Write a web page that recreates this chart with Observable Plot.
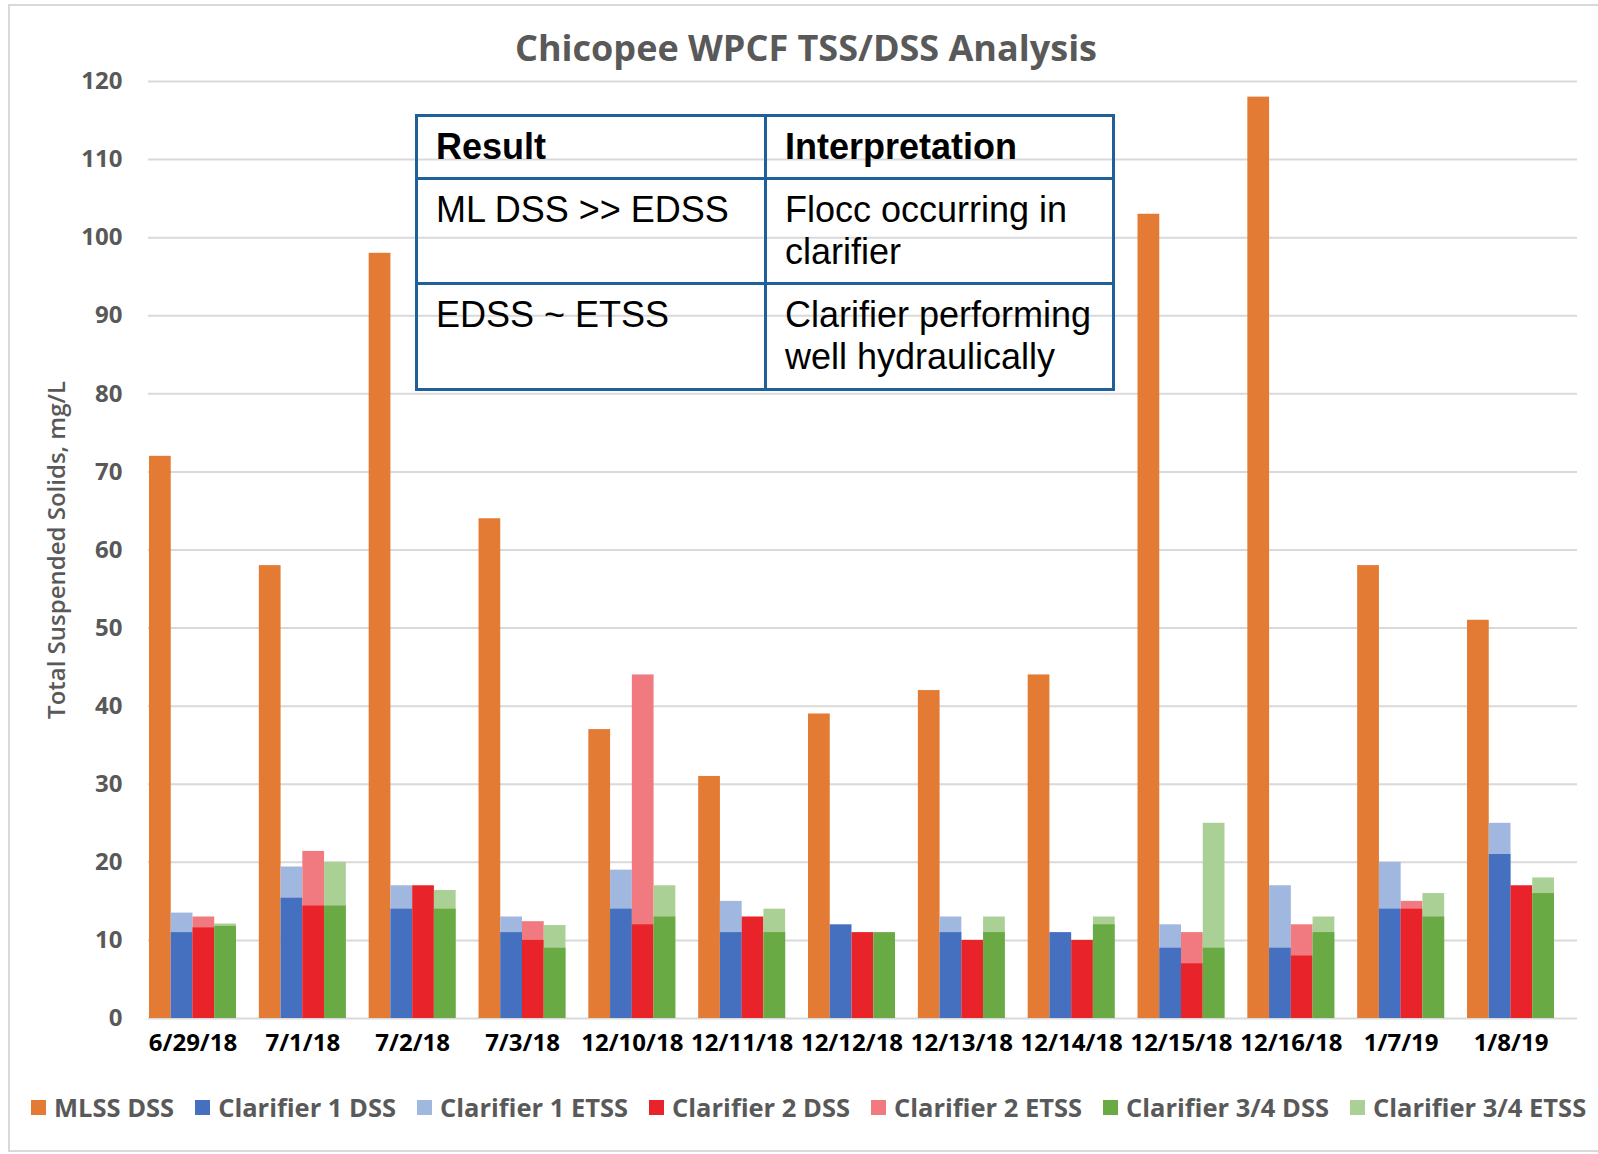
<!DOCTYPE html>
<html><head><meta charset="utf-8">
<script src="https://cdn.jsdelivr.net/npm/d3@7"></script>
<script src="https://cdn.jsdelivr.net/npm/@observablehq/plot@0.6"></script>
<style>
body{margin:0;background:#fff;}
#wrap{position:relative;width:1598px;height:1154px;overflow:hidden;font-family:"Open Sans",sans-serif;background:#fff;}
#frame{position:absolute;left:8px;top:4px;width:1600px;height:1148px;border:2px solid #d9d9d9;box-sizing:border-box;}
#chart{position:absolute;left:0;top:0;}
#title{position:absolute;left:806px;top:30px;transform:translateX(-50%);font-size:36px;line-height:1;font-weight:700;color:#595959;white-space:nowrap;}
#legend{position:absolute;left:31px;top:1092px;display:flex;align-items:center;font-size:25.5px;font-weight:700;color:#595959;line-height:30px;white-space:nowrap}
.item{display:flex;align-items:center;margin-right:21px}
.sw{width:15px;height:15px;margin-right:8px;flex:none}
#tbl{position:absolute;left:415px;top:114px;width:697px;border-collapse:collapse;table-layout:fixed;font-family:"Liberation Sans",Arial,sans-serif;font-size:36px;line-height:42px;color:#000}
#tbl td{border:3px solid #1F5F9A;padding:9px 4px 0 18px;vertical-align:top;text-align:left;white-space:nowrap}
</style></head>
<body>
<div id="wrap">
  <div id="frame"></div>
  <div id="chart"></div>
  <div id="title"></div>
  <table id="tbl">
    <colgroup><col style="width:349px"><col style="width:348px"></colgroup>
    <tr style="height:63px"><td><b>Result</b></td><td><b>Interpretation</b></td></tr>
    <tr style="height:105px"><td>ML DSS &gt;&gt; EDSS</td><td>Flocc occurring in<br>clarifier</td></tr>
    <tr style="height:106px"><td>EDSS ~ ETSS</td><td>Clarifier performing<br>well hydraulically</td></tr>
  </table>
  <div id="legend"></div>
</div>
<script>
const titleText = "Chicopee WPCF TSS/DSS Analysis";
const yTitle = "Total Suspended Solids, mg/L";
const dates = ["6/29/18","7/1/18","7/2/18","7/3/18","12/10/18","12/11/18","12/12/18","12/13/18","12/14/18","12/15/18","12/16/18","1/7/19","1/8/19"];
const mlssDss  = [72, 58, 98, 64, 37, 31, 39, 42, 44, 103, 118, 58, 51];
const c1Dss    = [11, 15.4, 14, 11, 14, 11, 12, 11, 11, 9, 9, 14, 21];
const c1Etss   = [13.5, 19.4, 17, 13, 19, 15, null, 13, null, 12, 17, 20, 25];
const c2Dss    = [11.6, 14.4, 17, 10, 12, 13, 11, 10, 10, 7, 8, 14, 17];
const c2Etss   = [13, 21.4, null, 12.4, 44, null, null, null, null, 11, 12, 15, null];
const c34Dss   = [11.8, 14.4, 14, 9, 13, 11, 11, 11, 12, 9, 11, 13, 16];
const c34Etss  = [12.1, 20, 16.4, 11.9, 17, 14, null, 13, 13, 25, 13, 16, 18];
const yTicks = [0,10,20,30,40,50,60,70,80,90,100,110,120];
const seriesNames  = ["MLSS DSS","Clarifier 1 DSS","Clarifier 1 ETSS","Clarifier 2 DSS","Clarifier 2 ETSS","Clarifier 3/4 DSS","Clarifier 3/4 ETSS"];
const seriesColors = ["#E47B34","#4470BF","#A0B7E0","#E8242A","#F07A80","#6AAA45","#AAD095"];

document.getElementById("title").textContent = titleText;

const xRange = [149, 1554];
const padIn = 0.208;
const band = d3.scaleBand().domain(dates).range(xRange).paddingInner(padIn).paddingOuter(0);
const sub = band.bandwidth() / 4;

function rows(vals){ return dates.map((d,i)=>({date:d, value:vals[i]})).filter(r=>r.value!=null); }
function bars(vals, slot, color){
  return Plot.barY(rows(vals), {x:"date", y:"value", fill:color,
    insetLeft: slot*sub, insetRight: (3-slot)*sub});
}

const chart = Plot.plot({
  width:1598, height:1154,
  marginLeft:148, marginRight:21, marginTop:81, marginBottom:136,
  style:{fontFamily:"'Open Sans', sans-serif", background:"transparent"},
  x:{domain:dates, range:xRange, paddingInner:padIn, paddingOuter:0, round:false, label:null},
  y:{domain:[0,120], label:null},
  marks:[
    Plot.ruleY(yTicks, {stroke:"#d9d9d9", strokeWidth:2}),
    bars(mlssDss, 0, seriesColors[0]),
    bars(c1Etss, 1, seriesColors[2]),
    bars(c1Dss, 1, seriesColors[1]),
    bars(c2Etss, 2, seriesColors[4]),
    bars(c2Dss, 2, seriesColors[3]),
    bars(c34Etss, 3, seriesColors[6]),
    bars(c34Dss, 3, seriesColors[5]),
    Plot.axisY(yTicks, {tickSize:0, tickPadding:26, fontSize:24, fontWeight:700, fill:"#595959", label:null}),
    Plot.axisX({tickSize:0, tickPadding:15, fontSize:24, fontWeight:700, fill:"#000", label:null}),
    Plot.text([yTitle], {frameAnchor:"left", textAnchor:"middle", rotate:-90, dx:-91, fontSize:24, fontWeight:600, fill:"#595959"})
  ]
});
document.getElementById("chart").appendChild(chart);

const legend = document.getElementById("legend");
seriesNames.forEach((name,i)=>{
  const it = document.createElement("div"); it.className="item";
  const sw = document.createElement("div"); sw.className="sw"; sw.style.background = seriesColors[i];
  const tx = document.createElement("span"); tx.textContent = name;
  it.appendChild(sw); it.appendChild(tx); legend.appendChild(it);
});
</script>
</body></html>
